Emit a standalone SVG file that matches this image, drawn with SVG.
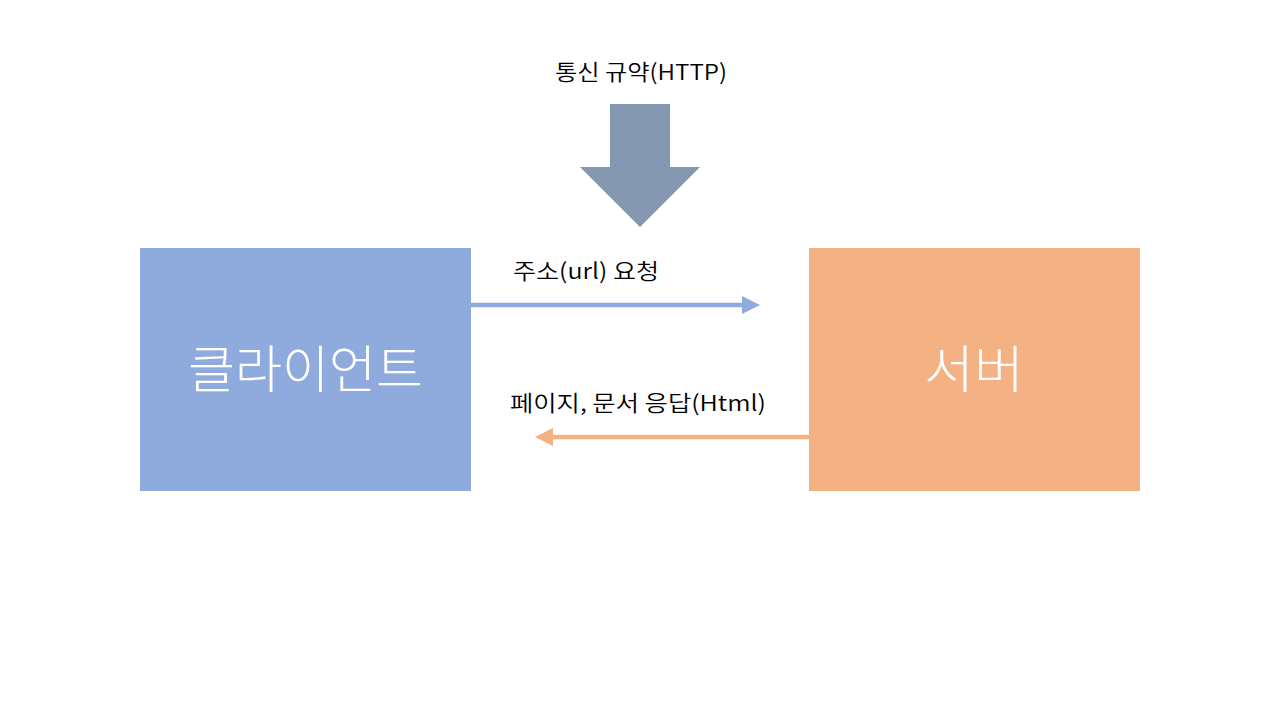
<svg xmlns="http://www.w3.org/2000/svg" width="1280" height="720" viewBox="0 0 1280 720">
<style>
.lbl{font-family:"Noto Sans CJK KR","Noto Sans",sans-serif;font-size:22px;fill:#000;font-weight:350}
.big{font-family:"Noto Sans CJK KR","Noto Sans",sans-serif;font-size:51px;fill:#fff;font-weight:300}
</style>
<defs>
<marker id="hb" markerWidth="4" markerHeight="4" refX="0" refY="2" orient="auto" markerUnits="strokeWidth"><path d="M0,0 L4,2 L0,4 Z" fill="#8FAADC"/></marker>
<marker id="ho" markerWidth="4" markerHeight="4" refX="0" refY="2" orient="auto" markerUnits="strokeWidth"><path d="M0,0 L4,2 L0,4 Z" fill="#F4B183"/></marker>
</defs>
<rect width="1280" height="720" fill="#fff"/>
<g id="protocol">
<text class="lbl" x="555" y="80" textLength="172" lengthAdjust="spacingAndGlyphs">통신 규약(HTTP)</text>
<polygon points="610,104 670,104 670,167 700,167 640,227 580,167 610,167" fill="#8497B0"/>
</g>
<g id="client">
<rect x="140" y="248" width="331" height="243" fill="#8FAADC"/>
<text class="big" x="188" y="388" textLength="235" lengthAdjust="spacingAndGlyphs">클라이언트</text>
</g>
<g id="server">
<rect x="809" y="248" width="331" height="243" fill="#F4B183"/>
<text class="big" x="924" y="388" textLength="100" lengthAdjust="spacingAndGlyphs">서버</text>
</g>
<g id="connectors">
<line x1="471" y1="305" x2="742" y2="305" stroke="#8FAADC" stroke-width="4.5" marker-end="url(#hb)"/>
<text class="lbl" x="513" y="279" textLength="146" lengthAdjust="spacingAndGlyphs">주소(url) 요청</text>
<line x1="809" y1="437" x2="553" y2="437" stroke="#F4B183" stroke-width="4.5" marker-end="url(#ho)"/>
<text class="lbl" x="510" y="411" textLength="256" lengthAdjust="spacingAndGlyphs">페이지, 문서 응답(Html)</text>
</g>
</svg>
